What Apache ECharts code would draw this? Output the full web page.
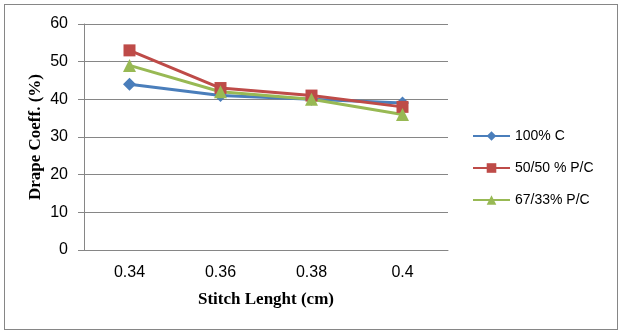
<!DOCTYPE html>
<html>
<head>
<meta charset="utf-8">
<script src="https://cdn.jsdelivr.net/npm/echarts@6/dist/echarts.min.js"></script>
<style>
  html, body { margin: 0; padding: 0; background: #fff; }
  #frame { position: absolute; left: 4px; top: 4px; width: 612px; height: 324px; border: 1px solid #868686; }
  #chart { position: absolute; left: 0; top: 0; width: 620px; height: 334px; }
</style>
</head>
<body>
<div id="frame"></div>
<div id="chart"></div>
<script>
// stitch length categories (cm)
const stitchLength = ['0.34', '0.36', '0.38', '0.4']
// drape coefficient (%) per blend
const cotton100 = [44, 41, 40, 39]
const pc5050 = [53, 43, 41, 38]
const pc6733 = [49, 42, 40, 36]
const yTicks = [0, 10, 20, 30, 40, 50, 60]

const gridColor = '#868686'
const labelFont = 'Liberation Sans'
const titleFont = 'Liberation Serif'

const chart = echarts.init(document.getElementById('chart'))

function lineSeries(name, data, color, symbol, size) {
  return {
    name,
    type: 'line',
    data,
    symbol,
    symbolSize: size,
    lineStyle: { color, width: 3 },
    itemStyle: { color },
    emphasis: { disabled: true },
  }
}

chart.setOption({
  animation: false,
  grid: { left: 84, right: 172, top: 24, bottom: 84 },
  legend: {
    orient: 'vertical',
    left: 467,
    top: 124,
    itemWidth: 37,
    itemHeight: 12,
    itemGap: 18,
    textStyle: { fontFamily: labelFont, fontSize: 14, color: '#000' },
    data: ['100% C', '50/50 % P/C', '67/33% P/C'],
  },
  xAxis: {
    type: 'category',
    data: stitchLength,
    boundaryGap: true,
    axisLine: { lineStyle: { color: gridColor, width: 1 } },
    axisTick: { show: false },
    axisLabel: { fontFamily: labelFont, fontSize: 16, color: '#000', margin: 15 },
    name: 'Stitch Lenght (cm)',
    nameLocation: 'middle',
    nameGap: 41,
    nameTextStyle: { fontFamily: titleFont, fontWeight: 'bold', fontSize: 17, color: '#000' },
  },
  yAxis: {
    type: 'value',
    min: yTicks[0],
    max: yTicks[yTicks.length - 1],
    interval: 10,
    axisLine: { show: true, lineStyle: { color: gridColor, width: 1 } },
    axisTick: { show: true, length: 6, lineStyle: { color: gridColor } },
    splitLine: { lineStyle: { color: gridColor, width: 1 } },
    axisLabel: { fontFamily: labelFont, fontSize: 16, color: '#000', margin: 16 },
    name: 'Drape Coeff. (%)',
    nameLocation: 'middle',
    nameRotate: 90,
    nameGap: 40,
    nameMoveOverlap: false,
    nameTextStyle: { fontFamily: titleFont, fontWeight: 'bold', fontSize: 17, color: '#000' },
  },
  series: [
    lineSeries('100% C', cotton100, '#4A7EBB', 'diamond', 13),
    lineSeries('50/50 % P/C', pc5050, '#BE4B48', 'rect', 12),
    lineSeries('67/33% P/C', pc6733, '#98B954', 'triangle', 13),
  ],
})
</script>
</body>
</html>
